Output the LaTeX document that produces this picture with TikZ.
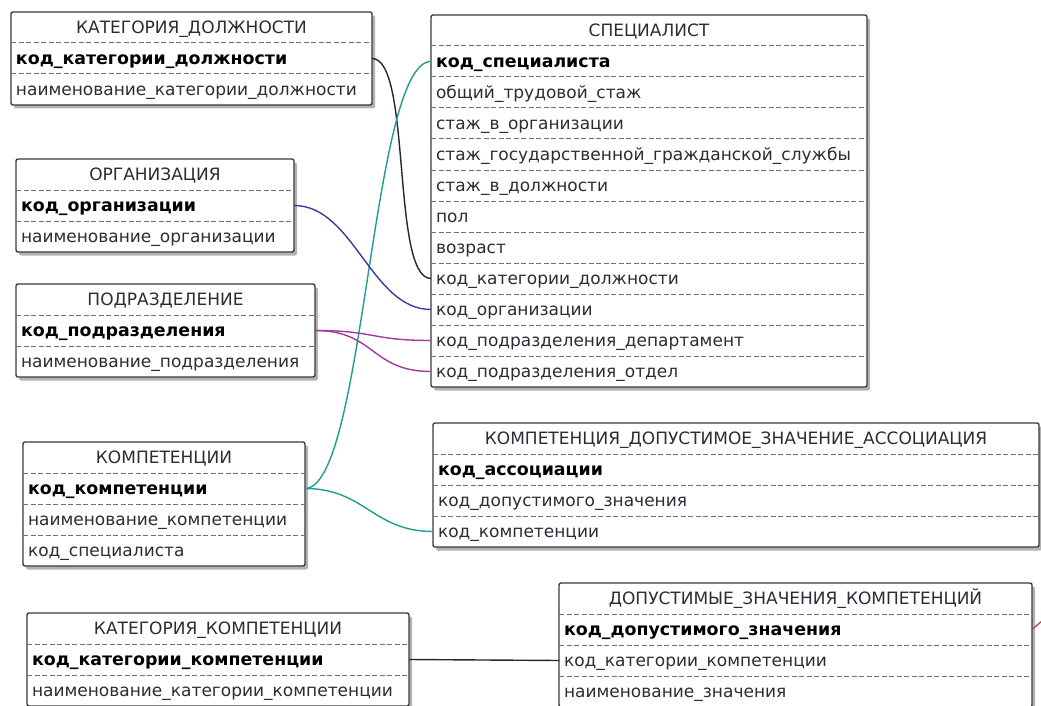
\documentclass[tikz,border=0pt]{standalone}
\usepackage{fontspec}
\setmainfont{DejaVu Sans}
\usetikzlibrary{positioning,shadows,backgrounds}
\definecolor{framegray}{HTML}{3A3A3A}
\definecolor{sepgray}{HTML}{707070}
\definecolor{textgray}{HTML}{2C2C38}
\definecolor{relteal}{HTML}{1F9C94}
\definecolor{relnavy}{HTML}{3B3B98}
\definecolor{relpurple}{HTML}{A03A9E}
\definecolor{relred}{HTML}{C04848}

\begin{document}
\begin{tikzpicture}[x=1pt, y=-1pt,
  node distance=0pt,
  cell/.style={inner xsep=5pt, inner ysep=0pt, outer sep=0pt, minimum height=31pt,
    text height=14.5pt, text depth=2.5pt, font=\fontsize{17}{20}\selectfont, text=textgray},
  thead/.style={cell, align=center},
  trow/.style={cell, align=left},
  tkey/.style={trow, font=\fontsize{17.4}{20}\selectfont\bfseries, text=black},
  tabframe/.style={draw=framegray, line width=1.4pt, fill=white, rounded corners=2pt,
    drop shadow={shadow xshift=3pt, shadow yshift=-3.5pt, fill=black, opacity=0.3}},
  rowsep/.style={draw=sepgray, line width=1pt, dash pattern=on 5pt off 2.5pt},
  rel/.style={line width=1.4pt},
]
  \useasboundingbox (0,0) rectangle (1041,706);

  % КАТЕГОРИЯ_ДОЛЖНОСТИ
  \begin{scope}[every node/.append style={text width=351pt}]
    \node[thead, anchor=north west] (katdol) at (11,12) {КАТЕГОРИЯ\_ДОЛЖНОСТИ};
    \node[tkey, below=of katdol]     (katdol-kod)  {код\_категории\_должности};
    \node[trow, below=of katdol-kod] (katdol-name) {наименование\_категории\_должности};
  \end{scope}

  % СПЕЦИАЛИСТ
  \begin{scope}[every node/.append style={text width=426pt}]
    \node[thead, anchor=north west] (spec) at (431,15) {СПЕЦИАЛИСТ};
    \node[tkey, below=of spec]          (spec-kod)     {код\_специалиста};
    \node[trow, below=of spec-kod]      (spec-obsh)    {общий\_трудовой\_стаж};
    \node[trow, below=of spec-obsh]     (spec-vorg)    {стаж\_в\_организации};
    \node[trow, below=of spec-vorg]     (spec-gos)     {стаж\_государственной\_гражданской\_службы};
    \node[trow, below=of spec-gos]      (spec-vdolzh)  {стаж\_в\_должности};
    \node[trow, below=of spec-vdolzh]   (spec-pol)     {пол};
    \node[trow, below=of spec-pol]      (spec-age)     {возраст};
    \node[trow, below=of spec-age]      (spec-katdol)  {код\_категории\_должности};
    \node[trow, below=of spec-katdol]   (spec-org)     {код\_организации};
    \node[trow, below=of spec-org]      (spec-dep)     {код\_подразделения\_департамент};
    \node[trow, below=of spec-dep]      (spec-otd)     {код\_подразделения\_отдел};
  \end{scope}

  % ОРГАНИЗАЦИЯ
  \begin{scope}[every node/.append style={text width=268pt}]
    \node[thead, anchor=north west] (org) at (16,159) {ОРГАНИЗАЦИЯ};
    \node[tkey, below=of org]     (org-kod)  {код\_организации};
    \node[trow, below=of org-kod] (org-name) {наименование\_организации};
  \end{scope}

  % ПОДРАЗДЕЛЕНИЕ
  \begin{scope}[every node/.append style={text width=289pt}]
    \node[thead, anchor=north west] (podr) at (16,284) {ПОДРАЗДЕЛЕНИЕ};
    \node[tkey, below=of podr]     (podr-kod)  {код\_подразделения};
    \node[trow, below=of podr-kod] (podr-name) {наименование\_подразделения};
  \end{scope}

  % КОМПЕТЕНЦИИ
  \begin{scope}[every node/.append style={text width=272pt}]
    \node[thead, anchor=north west] (komp) at (23,442) {КОМПЕТЕНЦИИ};
    \node[tkey, below=of komp]      (komp-kod)  {код\_компетенции};
    \node[trow, below=of komp-kod]  (komp-name) {наименование\_компетенции};
    \node[trow, below=of komp-name] (komp-spec) {код\_специалиста};
  \end{scope}

  % КОМПЕТЕНЦИЯ_ДОПУСТИМОЕ_ЗНАЧЕНИЕ_АССОЦИАЦИЯ
  \begin{scope}[every node/.append style={text width=596pt}]
    \node[thead, anchor=north west] (assoc) at (433,423) {КОМПЕТЕНЦИЯ\_ДОПУСТИМОЕ\_ЗНАЧЕНИЕ\_АССОЦИАЦИЯ};
    \node[tkey, below=of assoc]     (assoc-kod)  {код\_ассоциации};
    \node[trow, below=of assoc-kod] (assoc-dop)  {код\_допустимого\_значения};
    \node[trow, below=of assoc-dop] (assoc-komp) {код\_компетенции};
  \end{scope}

  % КАТЕГОРИЯ_КОМПЕТЕНЦИИ
  \begin{scope}[every node/.append style={text width=372pt}]
    \node[thead, anchor=north west] (katkomp) at (27,613) {КАТЕГОРИЯ\_КОМПЕТЕНЦИИ};
    \node[tkey, below=of katkomp]     (katkomp-kod)  {код\_категории\_компетенции};
    \node[trow, below=of katkomp-kod] (katkomp-name) {наименование\_категории\_компетенции};
  \end{scope}

  % ДОПУСТИМЫЕ_ЗНАЧЕНИЯ_КОМПЕТЕНЦИЙ
  \begin{scope}[every node/.append style={text width=463pt}]
    \node[thead, anchor=north west] (dopzn) at (559,583) {ДОПУСТИМЫЕ\_ЗНАЧЕНИЯ\_КОМПЕТЕНЦИЙ};
    \node[tkey, below=of dopzn]     (dopzn-kod)  {код\_допустимого\_значения};
    \node[trow, below=of dopzn-kod] (dopzn-kat)  {код\_категории\_компетенции};
    \node[trow, below=of dopzn-kat] (dopzn-name) {наименование\_значения};
  \end{scope}

  \begin{scope}[on background layer]
    \foreach \t/\b in {katdol/katdol-name, spec/spec-otd, org/org-name, podr/podr-name,
        komp/komp-spec, assoc/assoc-komp, katkomp/katkomp-name, dopzn/dopzn-name}
      \path[tabframe] (\t.north west) rectangle (\b.south east);
  \end{scope}

  \foreach \r in {katdol-kod, katdol-name,
      spec-kod, spec-obsh, spec-vorg, spec-gos, spec-vdolzh, spec-pol, spec-age,
      spec-katdol, spec-org, spec-dep, spec-otd,
      org-kod, org-name, podr-kod, podr-name, komp-kod, komp-name, komp-spec,
      assoc-kod, assoc-dop, assoc-komp, katkomp-kod, katkomp-name,
      dopzn-kod, dopzn-kat, dopzn-name}
    \draw[rowsep] (\r.north west) -- (\r.north east);

  % связи
  \coordinate (offright) at (1070,597);
  \draw[rel, draw=black!85] (katdol-kod.east) .. controls +(40,0) and +(-40,0) .. (spec-katdol.west);
  \draw[rel, draw=relteal] (komp-kod.east) .. controls +(60,0) and +(-60,0) .. (spec-kod.west);
  \draw[rel, draw=relteal] (komp-kod.east) .. controls +(60,0) and +(-60,0) .. (assoc-komp.west);
  \draw[rel, draw=relnavy] (org-kod.east) .. controls +(60,0) and +(-60,0) .. (spec-org.west);
  \draw[rel, draw=relpurple] (podr-kod.east) .. controls +(60,0) and +(-60,0) .. (spec-dep.west);
  \draw[rel, draw=relpurple] (podr-kod.east) .. controls +(60,0) and +(-60,0) .. (spec-otd.west);
  \draw[rel, draw=black!85] (katkomp-kod.east) -- (dopzn-kat.west);
  \draw[rel, draw=relred] (dopzn-kod.east) -- (offright);
\end{tikzpicture}
\end{document}
